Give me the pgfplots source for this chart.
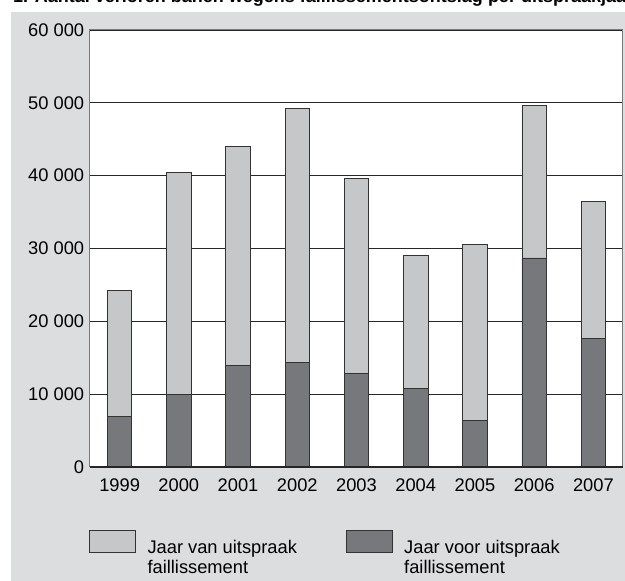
\documentclass[border=0pt]{standalone}
\usepackage{pgfplots}
\pgfplotsset{compat=1.18}
\usepackage{fontspec}
\setmainfont{Liberation Sans}
\definecolor{bgcol}{HTML}{DCDDDF}
\definecolor{lightbar}{HTML}{C6C7C9}
\definecolor{darkbar}{HTML}{77787B}
\definecolor{framegray}{HTML}{7A7A7A}
\newcommand\lf{\fontsize{18.3}{20}\selectfont}
\begin{document}
\begin{tikzpicture}[x=1pt,y=1pt]
\useasboundingbox (0,0) rectangle (625,581);
\fill[bgcol] (11,0) rectangle (625,569);
\begin{scope}
\clip (0,0) rectangle (625,581);
\node[anchor=base west, inner sep=0, font=\fontsize{18}{20}\selectfont\bfseries] at (13,578) {1. Aantal verloren banen wegens faillissementsontslag per uitspraakjaar};
\end{scope}
\begin{axis}[
  at={(90pt,114pt)}, anchor=south west,
  scale only axis, width=533pt, height=437pt,
  xmin=-0.5, xmax=8.5, ymin=0, ymax=60000,
  ybar stacked, bar width=24.4pt,
  axis background/.style={fill=white},
  xtick={0,...,8},
  xticklabels={1999,2000,2001,2002,2003,2004,2005,2006,2007},
  ytick={0,10000,20000,30000,40000,50000,60000},
  scaled y ticks=false,
  /pgf/number format/.cd, assume math mode=true, 1000 sep={\ },
  /pgfplots/.cd,
  tick label style={font=\lf},
  yticklabel style={xshift=-2.3pt},
  xticklabel style={yshift=-8pt},
  major tick length=0pt,
  ymajorgrids, grid style={draw=black!85, line width=0.9pt},
  axis line style={draw=framegray, line width=1pt},
  every axis plot/.append style={draw=black!80, line width=0.8pt},
]
\addplot[fill=darkbar] coordinates {(0,6900) (1,10000) (2,13900) (3,14400) (4,12900) (5,10800) (6,6400) (7,28700) (8,17600)};
\addplot[fill=lightbar] coordinates {(0,17400) (1,30400) (2,30100) (3,34800) (4,26700) (5,18200) (6,24100) (7,21000) (8,18900)};
\end{axis}
\draw[black!85, line width=1pt] (90,114) -- (623,114);
% legend
\filldraw[fill=lightbar, draw=black!80, line width=0.8pt] (89.3,28.3) rectangle (135,51);
\node[anchor=base west, inner sep=0, align=left, font=\lf] at (147.3,7) {Jaar van uitspraak\\faillissement};
\filldraw[fill=darkbar, draw=black!80, line width=0.8pt] (346,28.3) rectangle (392,51);
\node[anchor=base west, inner sep=0, align=left, font=\lf] at (404,7) {Jaar voor uitspraak\\faillissement};
\end{tikzpicture}
\end{document}
